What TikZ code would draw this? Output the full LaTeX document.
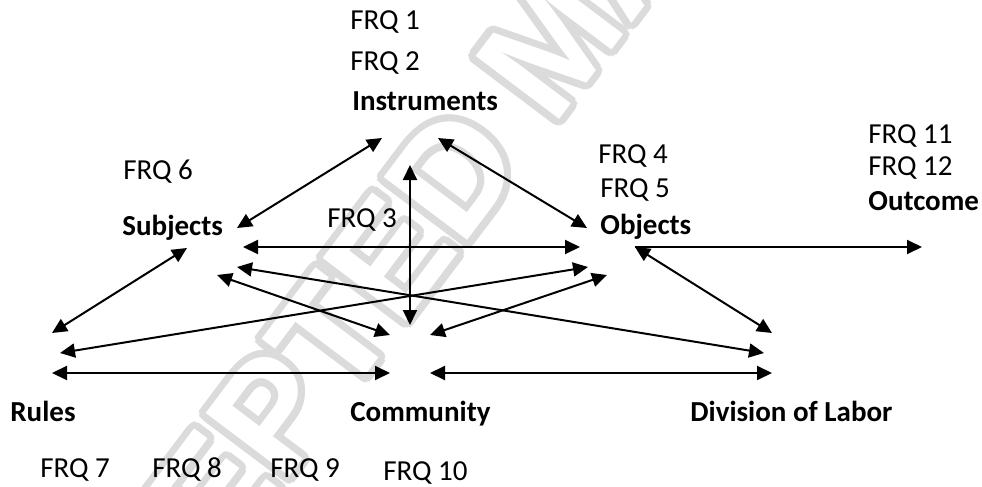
\documentclass[tikz,border=0pt]{standalone}
\usepackage{fontspec}
\setmainfont{Carlito}
\newfontfamily\wmfont{Liberation Sans}
\usetikzlibrary{arrows.meta,calc}
\tikzset{
  lbl/.style={anchor=base west, inner sep=0pt, font=\fontsize{14.5}{17}\selectfont},
  blbl/.style={lbl, font=\fontsize{14.5}{17}\selectfont\bfseries},
  link/.style={line width=1pt, {Triangle[length=7.5pt,width=7pt]}-{Triangle[length=7.5pt,width=7pt]}},
  onelink/.style={line width=1pt, -{Triangle[length=7.5pt,width=7pt]}},
  wmark/.style={rotate=53, inner sep=0pt, font=\wmfont\bfseries\fontsize{76}{76}\selectfont}
}
\begin{document}
\begin{tikzpicture}[x=0.5pt,y=-0.5pt]
\useasboundingbox[fill=white] (0,0) rectangle (982,487);
\clip (0,0) rectangle (982,487);
% watermark
\coordinate (wm) at (552,42);
\foreach \a in {0,20,...,340}{
  \node[wmark, text=black!14] (wm\a) at ($(wm)+(\a:3.6pt)$) {ACCEPTED MANUSCRIPT};
}
\node[wmark, text=white] (wmc) at (wm) {ACCEPTED MANUSCRIPT};
% labels
\node[lbl]  (frq1) at (350,30)  {FRQ 1};
\node[lbl]  (frq2) at (350,70)  {FRQ 2};
\node[blbl] (instr) at (352,111) {Instruments};
\node[lbl]  (frq6) at (123,179) {FRQ 6};
\node[blbl] (subj) at (122,235) {Subjects};
\node[lbl]  (frq3) at (327,227) {FRQ 3};
\node[lbl]  (frq4) at (598,163) {FRQ 4};
\node[lbl]  (frq5) at (600,197) {FRQ 5};
\node[blbl] (obj)  at (600,234) {Objects};
\node[lbl]  (frq11) at (868,143) {FRQ 11};
\node[lbl]  (frq12) at (868,175) {FRQ 12};
\node[blbl] (outc) at (868,210) {Outcome};
\node[blbl] (rules) at (10,421) {Rules};
\node[blbl] (comm) at (350,421) {Community};
\node[blbl] (div)  at (690,421) {Division of Labor};
\node[lbl]  (frq7) at (40,477)  {FRQ 7};
\node[lbl]  (frq8) at (152,477) {FRQ 8};
\node[lbl]  (frq9) at (270,477) {FRQ 9};
\node[lbl]  (frq10) at (383,480) {FRQ 10};
% connector end points
\coordinate (iS) at (382,138);
\coordinate (sI) at (237,228);
\coordinate (iO) at (438,138);
\coordinate (oI) at (587,228);
\coordinate (iC) at (410,165);
\coordinate (cI) at (410,325);
\coordinate (sO) at (243,247);
\coordinate (oS) at (580,247);
\coordinate (sR) at (187,248);
\coordinate (rS) at (52,333);
\coordinate (rO) at (60,353);
\coordinate (oR) at (588,267);
\coordinate (sD) at (237,267);
\coordinate (dS) at (764,353);
\coordinate (sC) at (217,275);
\coordinate (cS) at (390,335);
\coordinate (cO) at (430,335);
\coordinate (oC) at (607,275);
\coordinate (oD) at (635,247);
\coordinate (dO) at (772,333);
\coordinate (rC) at (52,373);
\coordinate (cR) at (390,373);
\coordinate (cD) at (430,373);
\coordinate (dC) at (772,373);
\coordinate (oU) at (635,247);
\coordinate (uO) at (922,247);
% connectors
\draw[link] (iS) -- (sI);
\draw[link] (iO) -- (oI);
\draw[link] (iC) -- (cI);
\draw[link] (sO) -- (oS);
\draw[link] (sR) -- (rS);
\draw[link] (rO) -- (oR);
\draw[link] (sD) -- (dS);
\draw[link] (sC) -- (cS);
\draw[link] (cO) -- (oC);
\draw[link] (oD) -- (dO);
\draw[link] (rC) -- (cR);
\draw[link] (cD) -- (dC);
\draw[onelink] (oU) -- (uO);
\end{tikzpicture}
\end{document}
